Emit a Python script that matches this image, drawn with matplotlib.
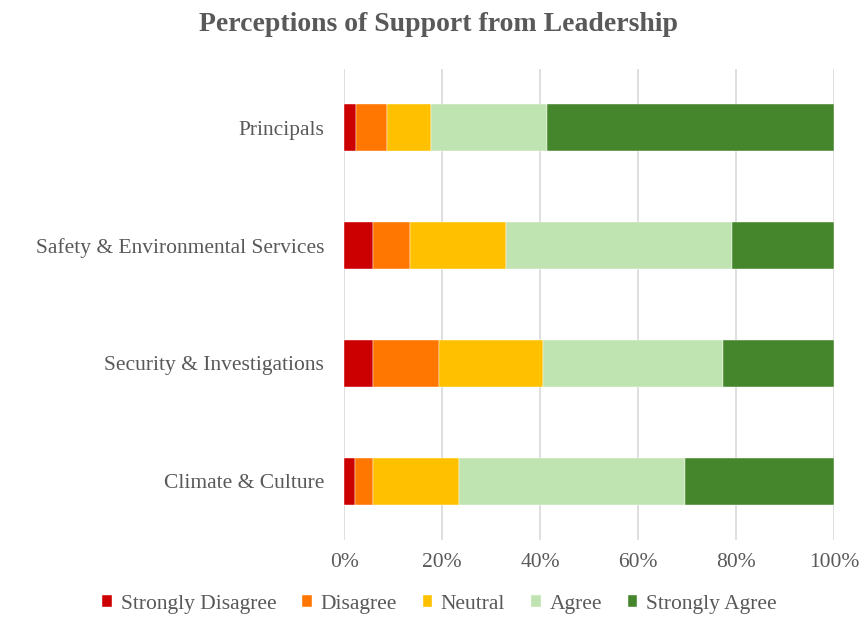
import numpy as np
import matplotlib.pyplot as plt
from matplotlib.ticker import PercentFormatter

plt.rcParams['font.family'] = ['Liberation Serif', 'DejaVu Serif']

# 各部门的回答占比（%）
groups = ['Principals', 'Safety & Environmental Services',
          'Security & Investigations', 'Climate & Culture']
levels = ['Strongly Disagree', 'Disagree', 'Neutral', 'Agree', 'Strongly Agree']
strongly_disagree = [2.4, 5.9, 5.9, 2.1]
disagree = [6.3, 7.6, 13.4, 3.8]
neutral = [9.0, 19.5, 21.3, 17.5]
agree = [23.8, 46.1, 36.7, 46.1]
strongly_agree = [58.5, 20.9, 22.7, 30.5]
colors = ['#CC0000', '#FF7700', '#FFC000', '#C0E3B2', '#45862C']

series = [strongly_disagree, disagree, neutral, agree, strongly_agree]
txt = '#595959'

fig = plt.figure(figsize=(8.65, 6.18), dpi=100)
ax = fig.add_axes([0.398, 0.126, 0.566, 0.763])

y = np.arange(len(groups))[::-1]
left = np.zeros(len(groups))
for name, vals, c in zip(levels, series, colors):
    ax.barh(y, vals, left=left, height=0.4, color=c, label=name,
            edgecolor='white', linewidth=0.3, zorder=3)
    left += np.array(vals)

ax.set_xlim(0, 100)
ax.set_ylim(-0.5, 3.5)
ax.set_xticks(np.arange(0, 101, 20))
ax.xaxis.set_major_formatter(PercentFormatter(decimals=0))
ax.set_yticks(y)
ax.set_yticklabels(groups)
ax.grid(axis='x', color='#D9D9D9', linewidth=1.2, zorder=0)
for s in ax.spines.values():
    s.set_visible(False)
ax.tick_params(length=0, labelsize=15.5, labelcolor=txt)
ax.tick_params(axis='y', pad=14.5)
ax.tick_params(axis='x', pad=9)

fig.suptitle('Perceptions of Support from Leadership', x=0.507, y=0.98,
             fontsize=20, fontweight='bold', color=txt)

fig.legend(loc='center', bbox_to_anchor=(0.508, 0.022), ncol=5,
           frameon=False, fontsize=15.5, handlelength=0.45, handleheight=0.45,
           handletextpad=0.4, columnspacing=1.2, labelcolor=txt,
           borderpad=0)

plt.savefig('out.png', dpi=100)
